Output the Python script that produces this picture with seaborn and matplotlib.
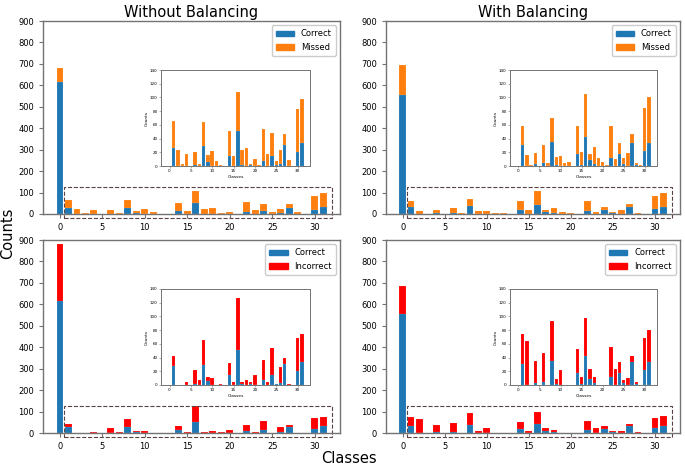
import pandas as pd
import matplotlib.pyplot as plt
import seaborn as sns
from matplotlib.patches import Patch, Rectangle

# Per-class counts (classes 0..31)
classes = list(range(32))
correct_without = [615, 27, 0, 0, 0, 0, 2, 0, 29, 6, 0, 0, 0, 0, 15, 0,
                   51, 2, 0, 2, 0, 0, 8, 0, 14, 2, 3, 30, 0, 0, 20, 34]
missed_without = [65, 38, 23, 3, 18, 0, 18, 3, 35, 10, 22, 7, 2, 0, 36, 15,
                  57, 22, 26, 1, 10, 1, 46, 18, 34, 5, 20, 17, 9, 0, 63, 63]
incorrect_without = [265, 16, 0, 0, 4, 0, 20, 7, 37, 5, 10, 0, 1, 0, 17, 5,
                     76, 2, 8, 2, 15, 0, 29, 4, 40, 0, 23, 9, 1, 0, 49, 41]
correct_with = [555, 31, 0, 0, 3, 0, 4, 0, 35, 1, 0, 0, 0, 0, 17, 2,
                43, 9, 3, 0, 0, 0, 12, 0, 18, 3, 0, 33, 1, 0, 22, 33]
missed_with = [140, 28, 16, 2, 16, 0, 26, 5, 35, 12, 14, 4, 6, 0, 42, 18,
               62, 8, 25, 11, 6, 1, 47, 10, 15, 8, 19, 14, 3, 1, 63, 67]
incorrect_with = [130, 43, 64, 0, 32, 0, 42, 0, 58, 8, 22, 0, 0, 0, 35, 9,
                  55, 14, 9, 0, 0, 0, 43, 23, 15, 5, 10, 9, 3, 0, 46, 47]

blue = '#1f77b4'
orange = '#ff7f0e'
red = '#ff0000'
spine_col = '0.45'

fig = plt.figure(figsize=(6.85, 4.67), dpi=100)


def draw_bars(ax, df, wrong_color):
    sns.barplot(data=df, x='Classes', y='Total', color=wrong_color, native_scale=True,
                saturation=1, width=0.8, edgecolor=(1, 1, 1, 0.35), linewidth=0.25, ax=ax)
    sns.barplot(data=df, x='Classes', y='Correct', color=blue, native_scale=True,
                saturation=1, width=0.8, edgecolor=(1, 1, 1, 0.35), linewidth=0.25, ax=ax)


def panel(main_rect, inset_rect, correct, wrong, wrong_color, wrong_label, title=None):
    df = pd.DataFrame({'Classes': classes, 'Correct': correct, 'Wrong': wrong})
    df['Total'] = df['Correct'] + df['Wrong']

    ax = fig.add_axes(main_rect)
    draw_bars(ax, df, wrong_color)
    ax.set_ylim(0, 900)
    ax.set_yticks(range(0, 901, 100))
    ax.set_xticks(range(0, 31, 5))
    ax.set_xlabel('')
    ax.set_ylabel('')
    ax.tick_params(labelsize=6, length=3, width=0.8, color=spine_col)
    for s in ax.spines.values():
        s.set_color(spine_col)
        s.set_linewidth(1.0)
    if title:
        ax.set_title(title, fontsize=10.5, pad=3)
    handles = [Patch(color=blue, label='Correct'), Patch(color=wrong_color, label=wrong_label)]
    ax.legend(handles=handles, loc='upper right', fontsize=6, framealpha=1,
              edgecolor='0.8', handlelength=2.2, borderpad=0.5)
    ax.add_patch(Rectangle((0.5, -18), 31.5, 143, fill=False, ls='--', lw=0.8,
                           edgecolor='#5a4242', clip_on=False))

    ins = fig.add_axes(inset_rect)
    draw_bars(ins, df[df['Classes'] > 0], wrong_color)
    ins.set_xlim(-2.0, 32.9)
    ins.set_ylim(0, 140)
    ins.set_yticks(range(0, 141, 20))
    ins.set_xticks(range(0, 31, 5))
    ins.set_xlabel('Classes', fontsize=3.2, labelpad=1)
    ins.set_ylabel('Counts', fontsize=3.2, labelpad=1)
    ins.tick_params(labelsize=3, length=1.5, width=0.4, pad=1, color=spine_col)
    for s in ins.spines.values():
        s.set_color(spine_col)
        s.set_linewidth(0.7)


panel([0.0628, 0.5418, 0.4336, 0.4132], [0.235, 0.6445, 0.2175, 0.2056],
      correct_without, missed_without, orange, 'Missed', 'Without Balancing')
panel([0.5635, 0.5418, 0.4292, 0.4132], [0.7445, 0.6445, 0.2146, 0.2056],
      correct_with, missed_with, orange, 'Missed', 'With Balancing')
panel([0.0628, 0.0728, 0.4336, 0.4132], [0.235, 0.1756, 0.2175, 0.2056],
      correct_without, incorrect_without, red, 'Incorrect')
panel([0.5635, 0.0728, 0.4292, 0.4132], [0.7445, 0.1756, 0.2146, 0.2056],
      correct_with, incorrect_with, red, 'Incorrect')

fig.text(0.011, 0.5, 'Counts', rotation=90, fontsize=10.5, ha='center', va='center')
fig.text(0.51, 0.018, 'Classes', fontsize=10.5, ha='center', va='center')

fig.savefig('out.png', dpi=100)
